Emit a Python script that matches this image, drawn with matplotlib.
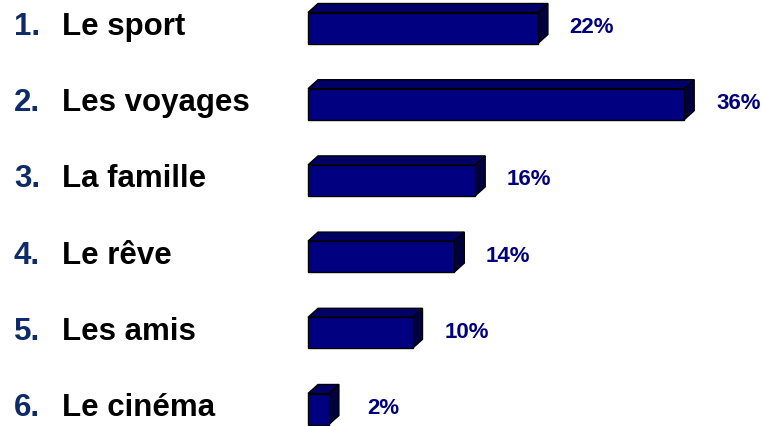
import matplotlib
matplotlib.use("Agg")
import matplotlib.pyplot as plt
import matplotlib.transforms as mtransforms
from matplotlib.patches import Polygon

numbers = ["1.", "2.", "3.", "4.", "5.", "6."]
categories = ["Le sport", "Les voyages", "La famille", "Le rêve", "Les amis", "Le cinéma"]
values = [22, 36, 16, 14, 10, 2]
value_labels = ["22%", "36%", "16%", "14%", "10%", "2%"]

plt.rcParams['font.family'] = ['Liberation Sans', 'DejaVu Sans']

W, H = 762, 427
fig = plt.figure(figsize=(W / 100, H / 100), dpi=100)
ax = fig.add_axes([0, 0, 1, 1])
ax.set_axis_off()

px_per_pct = 10.45
x0 = 308
row_px = 76.2
first_px = 29
ax.set_xlim(-x0 / px_per_pct, (W - x0) / px_per_pct)
ax.set_ylim((H - first_px) / row_px, -first_px / row_px)

bar_h = 31 / row_px
dx = 10 / px_per_pct
dy = 9 / row_px

front_c = "#000080"
top_c = "#000066"
side_c = "#00003f"

ypos = list(range(len(values)))
ax.barh(ypos, values, height=bar_h, color=front_c, edgecolor="black", linewidth=1.0, zorder=3)
for y, v in zip(ypos, values):
    top = y - bar_h / 2
    bot = y + bar_h / 2
    ax.add_patch(Polygon([(0, top), (dx, top - dy), (v + dx, top - dy), (v, top)],
                         closed=True, facecolor=top_c, edgecolor="black", linewidth=1.0, zorder=2))
    ax.add_patch(Polygon([(v, top), (v + dx, top - dy), (v + dx, bot - dy), (v, bot)],
                         closed=True, facecolor=side_c, edgecolor="black", linewidth=1.0, zorder=2))

trans = mtransforms.blended_transform_factory(fig.transFigure, ax.transData)
for y, n, c in zip(ypos, numbers, categories):
    ax.text(14 / W, y + 6 / row_px, n, transform=trans, fontsize=22.5, fontweight="bold",
            color="#0d2a6b", ha="left", va="baseline")
    ax.text(62 / W, y + 6 / row_px, c, transform=trans, fontsize=22.5, fontweight="bold",
            color="black", ha="left", va="baseline")

for y, v, lab in zip(ypos, values, value_labels):
    ax.text(v + 54 / px_per_pct, y + 4 / row_px, lab, fontsize=16, fontweight="bold",
            color="#000080", ha="center", va="baseline")

fig.savefig("out.png", dpi=100)
